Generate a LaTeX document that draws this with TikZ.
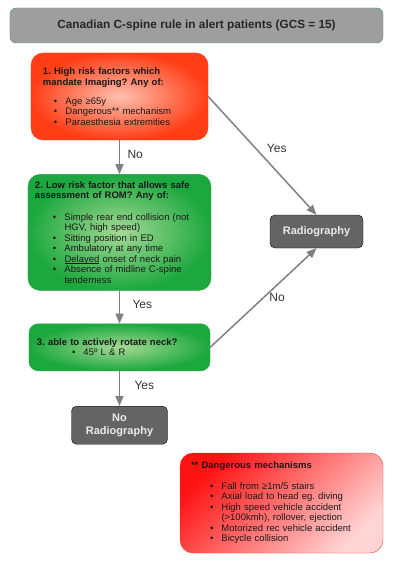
\documentclass[tikz,border=0pt]{standalone}
\usepackage{fontspec}
\setmainfont{Liberation Sans}
\usepackage{tikz}
\usetikzlibrary{arrows.meta,positioning}
\definecolor{headfill}{RGB}{158,158,158}
\definecolor{headline}{RGB}{80,150,125}
\definecolor{riskin}{RGB}{255,192,175}
\definecolor{riskout}{RGB}{255,62,22}
\definecolor{riskline}{RGB}{255,60,40}
\definecolor{lowin}{RGB}{165,218,150}
\definecolor{lowout}{RGB}{28,168,62}
\definecolor{lowline}{RGB}{40,160,70}
\definecolor{dangtop}{RGB}{255,18,18}
\definecolor{dangbot}{RGB}{255,212,212}
\definecolor{resfill}{RGB}{100,100,100}
\definecolor{arrgray}{RGB}{128,128,128}
\newcommand{\bul}[1]{\hspace*{#1}\makebox[11.5bp][l]{\textbullet}}
\newcommand{\cnt}[1]{\hspace*{#1}\hspace*{11.5bp}}
\newcommand{\ulw}[1]{\setbox0\hbox{#1}\rlap{\rule[-1.6bp]{\wd0}{0.6bp}}\box0\relax}
\frenchspacing

\begin{document}
\begin{tikzpicture}[x=1bp,y=1bp,
  font=\fontsize{9.5bp}{10.5bp}\selectfont, >={Triangle[length=10bp,width=8bp]},
  hd/.style={draw=headline,fill=headfill,rounded corners=6bp,minimum width=373bp,minimum height=35bp,font=\fontsize{11.8bp}{13bp}\selectfont\bfseries,text=black!85},
  risk/.style={draw=riskline,inner color=riskin,outer color=riskout,rounded corners=12bp,align=left,text=black!90},
  low/.style={draw=lowline,inner color=lowin,outer color=lowout,rounded corners=12bp,align=left,text=black!90},
  dang/.style={draw=riskline,top color=dangtop,bottom color=dangbot,shading angle=45,rounded corners=13bp,align=left,text=black!90},
  res/.style={draw=black,fill=resfill,rounded corners=5bp,text=white!92!black,font=\fontsize{11bp}{12.5bp}\selectfont\bfseries,align=center},
  arr/.style={->,draw=arrgray,line width=1.5bp},
  lab/.style={font=\fontsize{12bp}{14bp}\selectfont,text=black!80}]
\useasboundingbox (0,0) rectangle (400,-566);
% title
\node[hd] (title) at (196.5,-25.5) {Canadian C-spine rule in alert patients (GCS = 15)};
% decision chain
\node[risk,text width=153bp,inner xsep=12bp,minimum height=87bp] (box1) at (119.5,-96.5) {%
  \textbf{1. High risk factors which}\\
  \textbf{mandate Imaging? Any of:}\\[8.5bp]
  \bul{11bp}Age ≥65y\\
  \bul{11bp}Dangerous** mechanism\\
  \bul{11bp}Paraesthesia extremities};
\node[low,text width=169bp,inner xsep=7bp,minimum height=116bp,below=34bp of box1] (box2) {%
  \textbf{2. Low risk factor that allows safe}\\
  \textbf{assessment of ROM? Any of:}\\[11bp]
  \bul{18bp}Simple rear end collision (not\\
  \cnt{18bp}HGV, high speed)\\
  \bul{18bp}Sitting position in ED\\
  \bul{18bp}Ambulatory at any time\\
  \bul{18bp}\ulw{Delayed} onset of neck pain\\
  \bul{18bp}Absence of midline C-spine\\
  \cnt{18bp}tenderness};
\node[low,rounded corners=9bp,text width=165bp,inner xsep=8bp,minimum height=47bp,below=33bp of box2] (box3) {%
  \textbf{3. able to actively rotate neck?}\\
  \bul{35bp}45º L \& R};
\node[res,minimum width=96bp,minimum height=38bp,below=35bp of box3] (norad) {No\\Radiography};
% outcome
\node[res,minimum width=93bp,minimum height=33bp] (rad) at (316.5,-231.5) {Radiography};
\foreach \x/\y/\l/\d in {box1/box2/No/4bp,box2/box3/Yes/9bp,box3/norad/Yes/11bp}
  \draw[arr] (\x.south) -- node[lab,pos=0.42,right=\d] {\l} (\y.north);
\draw[arr] (box1.east) -- node[lab,pos=0.44,right=7bp] {Yes} (rad.north);
\draw[arr] (box3.east) -- node[lab,pos=0.5,right=2bp] {No} (rad.south);
% footnote box
\node[dang,text width=181bp,inner xsep=11bp,minimum height=100bp] (danger) at (281.5,-503) {%
  \textbf{** Dangerous mechanisms}\\[10bp]
  \bul{19bp}Fall from ≥1m/5 stairs\\
  \bul{19bp}Axial load to head eg. diving\\
  \bul{19bp}High speed vehicle accident\\
  \cnt{19bp}(>100kmh), rollover, ejection\\
  \bul{19bp}Motorized rec vehicle accident\\
  \bul{19bp}Bicycle collision};
\end{tikzpicture}
\end{document}
